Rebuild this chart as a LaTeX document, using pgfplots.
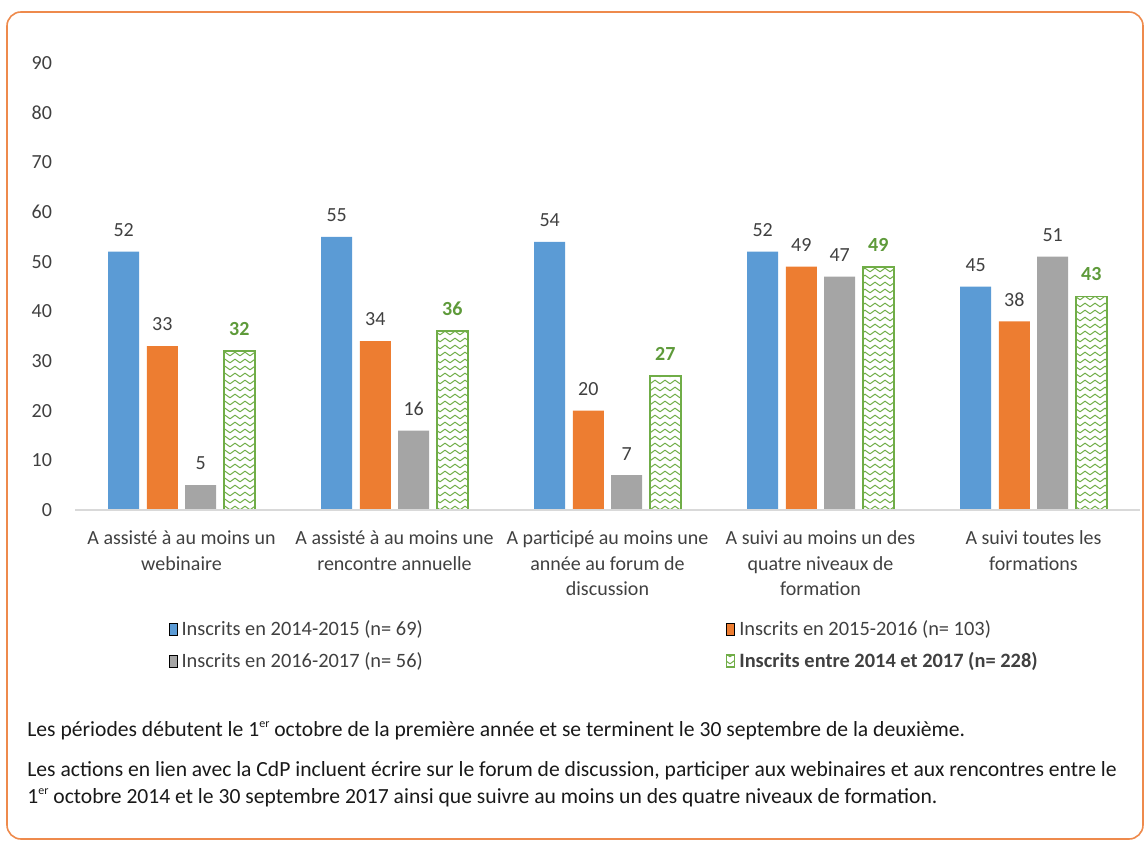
\documentclass[border=0pt]{standalone}
\usepackage{pgfplots}
\pgfplotsset{compat=1.18}
\usepackage{fontspec}
\setmainfont{Carlito}
\usetikzlibrary{patterns}
\definecolor{cblue}{HTML}{5B9BD5}
\definecolor{corange}{HTML}{ED7D31}
\definecolor{cgray}{HTML}{A5A5A5}
\definecolor{cgreen}{HTML}{70AD47}
\definecolor{cgreenT}{HTML}{5E9A3A}
\definecolor{ctext}{HTML}{404040}
\definecolor{cframe}{HTML}{EE8A4C}
\definecolor{cbase}{HTML}{D9D9D9}
\pgfdeclarepatternformonly{zigzag}{\pgfpoint{-0.5pt}{-0.5pt}}{\pgfpoint{5.5pt}{4pt}}{\pgfpoint{5pt}{3.5pt}}{%
  \pgfsetlinewidth{0.5pt}%
  \pgfpathmoveto{\pgfpoint{0pt}{0.6pt}}%
  \pgfpathlineto{\pgfpoint{2.5pt}{2.4pt}}%
  \pgfpathlineto{\pgfpoint{5pt}{0.6pt}}%
  \pgfusepath{stroke}}
\newcommand{\mysup}[1]{\raisebox{0.8ex}{\fontsize{6}{6}\selectfont #1}}
\begin{document}
\begin{tikzpicture}
\path[use as bounding box] (0,0) rectangle (572pt,420pt);
\draw[cframe, line width=0.8pt, rounded corners=7pt] (3.5pt,0.5pt) rectangle (571.5pt,414pt);
\begin{axis}[
  at={(37.5pt,165pt)}, anchor=south west,
  scale only axis, width=532.5pt, height=223.5pt,
  ymin=0, ymax=90, xmin=-0.5, xmax=4.5,
  ytick={0,10,...,90}, xtick={0,1,2,3,4},
  xticklabels={{A assisté à au moins un\\webinaire},{A assisté à au moins une\\rencontre annuelle},{A participé au moins une\\année au forum de\\discussion},{A suivi au moins un des\\quatre niveaux de\\formation},{A suivi toutes les\\formations}},
  axis line style={draw=none},
  major tick length=0pt,
  /pgf/number format/assume math mode=true,
  ticklabel style={font=\fontsize{10}{12.7}\selectfont, text=ctext},
  yticklabel style={xshift=-8pt},
  xticklabel style={align=center, yshift=-7pt},
  ybar, bar width=15.5pt,
  nodes near coords,
  every node near coord/.append style={font=\fontsize{10}{12}\selectfont, text=ctext, yshift=4pt},
  clip=false,
  legend columns=2,
  legend style={at={(0.082,-0.228)}, anchor=north west, draw=none, fill=none,
    font=\fontsize{10.2}{12}\selectfont, text=ctext, row sep=3pt},
  legend cell align=left,
  legend image code/.code={\draw[#1] (0pt,-3pt) rectangle (4pt,3pt);},
]
\addplot[fill=cblue, draw=none, bar shift=-28.9pt] coordinates {(0,52) (1,55) (2,54) (3,52) (4,45)};
\addlegendentry{\makebox[270pt][l]{Inscrits en 2014-2015 (n= 69)}}
\addplot[fill=corange, draw=none, bar shift=-9.6pt] coordinates {(0,33) (1,34) (2,20) (3,49) (4,38)};
\addlegendentry{Inscrits en 2015-2016 (n= 103)}
\addplot[fill=cgray, draw=none, bar shift=9.6pt] coordinates {(0,5) (1,16) (2,7) (3,47) (4,51)};
\addlegendentry{\makebox[270pt][l]{Inscrits en 2016-2017 (n= 56)}}
\addplot[draw=cgreen, line width=0.9pt, pattern=zigzag, pattern color=cgreen, bar shift=28.9pt,
  every node near coord/.append style={font=\fontsize{10}{12}\selectfont\bfseries, text=cgreenT}] coordinates {(0,32) (1,36) (2,27) (3,49) (4,43)};
\addlegendentry{\textbf{Inscrits entre 2014 et 2017 (n= 228)}}
\draw[cbase, line width=0.8pt] (axis cs:-0.5,0) -- (axis cs:4.5,0);
\end{axis}
\node[anchor=base west, inner sep=0pt, font=\fontsize{10.8}{12}\selectfont, text=black!90] at (13.5pt,52pt) {Les périodes débutent le 1\mysup{er} octobre de la première année et se terminent le 30 septembre de la deuxième.};
\node[anchor=base west, inner sep=0pt, font=\fontsize{10.8}{12}\selectfont, text=black!90] at (13.5pt,32pt) {Les actions en lien avec la CdP incluent écrire sur le forum de discussion, participer aux webinaires et aux rencontres entre le};
\node[anchor=base west, inner sep=0pt, font=\fontsize{10.8}{12}\selectfont, text=black!90] at (13.5pt,18.5pt) {1\mysup{er} octobre 2014 et le 30 septembre 2017 ainsi que suivre au moins un des quatre niveaux de formation.};
\end{tikzpicture}
\end{document}
